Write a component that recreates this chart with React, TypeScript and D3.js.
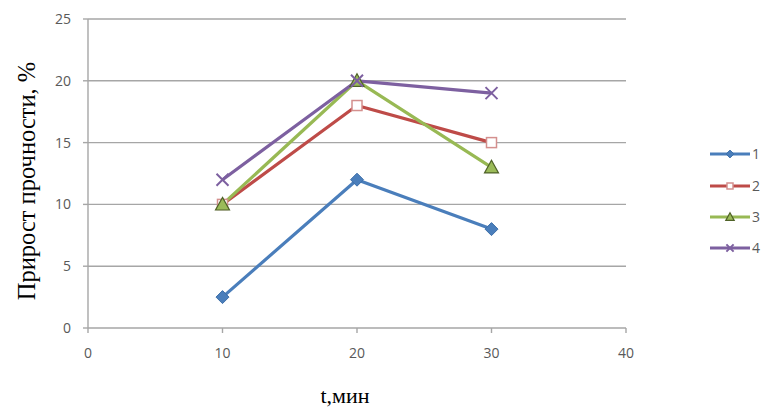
import React from "react";
import * as d3 from "d3";

const times = [10, 20, 30];
const series1 = [2.5, 12, 8];
const series2 = [10, 18, 15];
const series3 = [10, 20, 13];
const series4 = [12, 20, 19];
const seriesNames = ["1", "2", "3", "4"];
const xTicks = [0, 10, 20, 30, 40];
const yTicks = [0, 5, 10, 15, 20, 25];

const W = 761;
const H = 410;

const colors = ["#4a7ebb", "#be4b48", "#98b954", "#7d60a0"];

function Marker({ kind, x, y, s = 1 }: { kind: number; x: number; y: number; s?: number }) {
  if (kind === 0) {
    const r = 6.5 * s;
    return (
      <path
        d={`M${x},${y - r}L${x + r},${y}L${x},${y + r}L${x - r},${y}Z`}
        fill="#4a7ebb"
        stroke="#3d6fa9"
        strokeWidth={1}
      />
    );
  }
  if (kind === 1) {
    const r = 5 * s;
    return <rect x={x - r} y={y - r} width={2 * r} height={2 * r} fill="#fff" stroke="#d4908e" strokeWidth={1.5} />;
  }
  if (kind === 2) {
    const r = 7 * s;
    return (
      <path
        d={`M${x},${y - r}L${x + r},${y + r * 0.8}L${x - r},${y + r * 0.8}Z`}
        fill="#9bbb59"
        stroke="#4f6228"
        strokeWidth={1.2}
      />
    );
  }
  const r = 6 * s;
  return (
    <path
      d={`M${x - r},${y - r}L${x + r},${y + r}M${x + r},${y - r}L${x - r},${y + r}`}
      stroke="#7d60a0"
      strokeWidth={2}
      fill="none"
    />
  );
}

export default function App() {
  const x = d3.scaleLinear().domain([0, 40]).range([88, 626]);
  const y = d3.scaleLinear().domain([0, 25]).range([328, 19]);
  const data = [series1, series2, series3, series4];
  const line = d3
    .line<number>()
    .x((_, i) => x(times[i]))
    .y((d) => y(d));

  const legendY = [154, 186, 217, 248];

  return (
    <svg width={W} height={H} style={{ position: "absolute", left: 0, top: 0, background: "#fff" }}>
      {/* horizontal gridlines */}
      {yTicks.map((t) => (
        <line key={"g" + t} x1={x(0)} x2={x(40)} y1={y(t)} y2={y(t)} stroke="#a6a6a6" strokeWidth={1.4} />
      ))}
      {/* y axis */}
      <line x1={x(0)} x2={x(0)} y1={y(0)} y2={y(25)} stroke="#a6a6a6" strokeWidth={1.4} />
      {yTicks.map((t) => (
        <line key={"yt" + t} x1={x(0) - 5} x2={x(0)} y1={y(t)} y2={y(t)} stroke="#a6a6a6" strokeWidth={1.4} />
      ))}
      {xTicks.map((t) => (
        <line key={"xt" + t} x1={x(t)} x2={x(t)} y1={y(0)} y2={y(0) + 5} stroke="#a6a6a6" strokeWidth={1.4} />
      ))}
      {yTicks.map((t) => (
        <text
          key={"yl" + t}
          x={71}
          y={y(t)}
          dy="0.35em"
          textAnchor="end"
          fontFamily="'Open Sans', sans-serif"
          fontSize={14}
          fill="#595959"
        >
          {t}
        </text>
      ))}
      {xTicks.map((t) => (
        <text
          key={"xl" + t}
          x={x(t)}
          y={353}
          dy="0.35em"
          textAnchor="middle"
          fontFamily="'Open Sans', sans-serif"
          fontSize={14}
          fill="#595959"
        >
          {t}
        </text>
      ))}
      {/* axis titles */}
      <text
        transform="translate(35,181) rotate(-90)"
        textAnchor="middle"
        fontFamily="'Liberation Serif', 'Times New Roman', serif"
        fontSize={24.5}
        fill="#000"
      >
        Прирост прочности, %
      </text>
      <text
        x={345}
        y={403}
        textAnchor="middle"
        fontFamily="'Liberation Serif', 'Times New Roman', serif"
        fontSize={22}
        fill="#000"
      >
        t,мин
      </text>
      {/* series lines */}
      {data.map((d, i) => (
        <path key={"l" + i} d={line(d) || ""} fill="none" stroke={colors[i]} strokeWidth={3.2} strokeLinejoin="round" />
      ))}
      {data.map((d, i) =>
        d.map((v, j) => <Marker key={"m" + i + "-" + j} kind={i} x={x(times[j])} y={y(v)} />)
      )}
      {/* legend */}
      {seriesNames.map((n, i) => (
        <g key={"lg" + i}>
          <line x1={710} x2={750} y1={legendY[i]} y2={legendY[i]} stroke={colors[i]} strokeWidth={3} />
          <Marker kind={i} x={730} y={legendY[i]} s={0.6} />
          <text
            x={752}
            y={legendY[i]}
            dy="0.35em"
            fontFamily="'Open Sans', sans-serif"
            fontSize={14}
            fill="#595959"
          >
            {n}
          </text>
        </g>
      ))}
    </svg>
  );
}
